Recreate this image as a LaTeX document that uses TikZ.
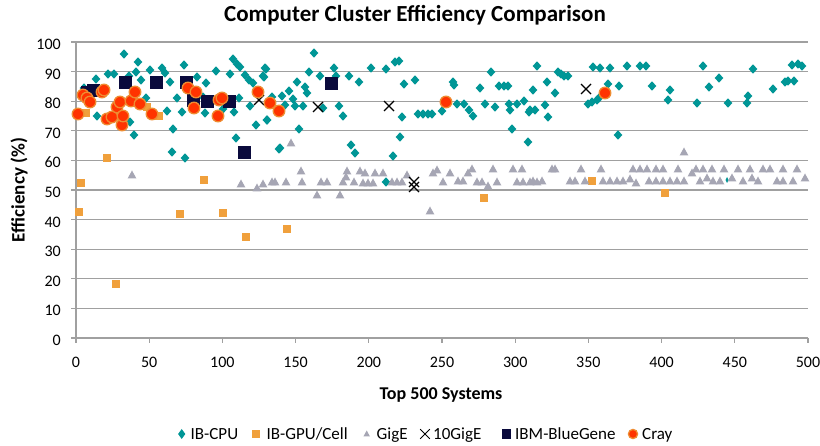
\documentclass[tikz,border=0pt]{standalone}
\usepackage{fontspec}
\setmainfont{Carlito}
\definecolor{cpuc}{RGB}{0,150,150}
\definecolor{gpuc}{RGB}{240,160,60}
\definecolor{gigc}{RGB}{166,166,180}
\definecolor{bgc}{RGB}{10,10,60}
\definecolor{crayf}{RGB}{255,51,0}
\definecolor{crayb}{RGB}{238,140,50}
\definecolor{gridc}{RGB}{160,160,160}
\tikzset{
  gridline/.style={draw=gridc,line width=1.2pt},
  ticklab/.style={font=\fontsize{16}{18}\selectfont,inner sep=0pt},
  cpu/.style={fill=cpuc},
  gpu/.style={fill=gpuc},
  gig/.style={fill=gigc},
  xge/.style={draw=black,line width=1.3pt},
  bgm/.style={fill=bgc},
  cray/.style={fill=crayf,draw=crayb,line width=1.3pt},
}
\begin{document}
\begin{tikzpicture}[x=1pt,y=-1pt]
\useasboundingbox (0,0) rectangle (820,446);
\fill[white] (0,0) rectangle (820,446);
% title
\node[font=\fontsize{23}{26}\selectfont\bfseries,inner sep=0pt,anchor=base] (title) at (415,22) {Computer Cluster Efficiency Comparison};
% grid
\foreach \v in {10,20,...,100}
  \draw[gridline] (76,{338-2.96*\v}) -- (808,{338-2.96*\v});
\draw[gridline] (76,42.4) -- (76,338) -- (808,338);
\foreach \v in {0,10,...,100}{
  \draw[gridline] (71,{338-2.96*\v}) -- (76,{338-2.96*\v});
  \node[ticklab,anchor=base east] (yl\v) at (61,{345.5-2.96*\v}) {\v};
}
\foreach \v in {0,50,...,500}{
  \draw[gridline] ({76+1.464*\v},338) -- ({76+1.464*\v},343);
  \node[ticklab,anchor=base] (xl\v) at ({76+1.464*\v},368) {\v};
}
\node[font=\fontsize{18}{20}\selectfont\bfseries,inner sep=0pt,anchor=base] (xlab) at (441,400) {Top 500 Systems};
\node[font=\fontsize{19}{21}\selectfont\bfseries,inner sep=0pt,rotate=90] (ylab) at (19,190) {Efficiency (\%)};
% IB-CPU
\foreach \x/\y in {124/54,138/62,129/76,136/72,141/80,150/70,146/98,96/79,108/74,114/74,97/116,134/135,130/122,184/65,197/77,206/83,216/71,162/68,165/73,170/82,173/129,172/152,185/158,167/111,182/112,177/98,205/113,203/97,233/59,237/64,240/67,230/74,245/75,249/80,253/83,239/98,250/106,236/138,256/125,266/69,264/77,272/97,267/120,279/110,279/149,223/109,234/112,84/88,
314/53,265/68,263/76,309/72,320/76,297/82,305/87,307/93,289/91,282/96,293/99,285/105,295/106,303/106,323/108,339/106,343/116,267/120,299/129,280/148,351/145,355/153,334/68,336/76,349/76,359/82,371/68,386/69,395/62,399/61,404/84,415/80,402/117,400/137,393/156,386/182,418/114,423/114,428/114,432/114,442/111,453/82,454/85,457/104,464/104,469/110,473/116,480/88,485/104,491/72,495/107,499/86,504/86,508/86,509/104,510/110,512/129,517/104,524/101,528/142,529/112,533/90,535/110,537/66,
530/110,545/105,548/117,547/82,555/93,558/72,561/74,564/76,568/76,593/67,600/68,610/68,608/84,619/86,588/104,592/102,597/100,599/98,618/135,627/66,640/66,646/66,652/86,670/90,668/100,697/103,703/66,709/87,719/78,728/103,747/103,748/96,753/69,773/89,785/82,788/81,794/81,792/65,798/64,802/66}
  \fill[cpu] (\x,\y) +(0,-4.6) -- +(4.4,0) -- +(0,4.6) -- +(-4.4,0) -- cycle;
\fill[cpu] (727,180) +(0,-3) -- +(1.5,0) -- +(0,3) -- +(-1.5,0) -- cycle;
% IB-GPU/Cell
\foreach \x/\y in {86/113,147/107,159/116,107/158,81/183,79/212,180/214,204/180,223/213,246/237,116/284,287/229,484/198,592/181,665/193}
  \fill[gpu] (\x,\y) +(-4.2,-4.2) rectangle +(4.2,4.2);
% GigE
\foreach \x/\y in {132/175,241/184,257/188,272/182,275/182,291/143,
263/184,286/182,301/171,302/182,317/195,321/182,327/182,340/195,343/182,347/171,346/177,354/182,360/171,363/183,368/183,373/183,365/173,375/173,383/173,392/182,397/182,402/182,407/175,430/211,433/173,437/170,443/182,450/173,458/181,463/181,468/173,472/169,477/182,482/182,488/186,493/169,497/182,513/169,522/169,517/182,523/182,530/182,537/182,
684/152,552/169,555/169,581/169,601/169,633/169,640/169,647/169,656/169,663/169,678/169,696/169,703/169,712/169,724/169,738/169,750/169,763/169,770/169,783/169,797/169,
533/181,542/181,570/181,575/181,585/181,603/181,610/181,617/181,623/181,630/179,636/183,649/181,656/181,663/181,670/181,677/181,684/181,692/173,700/181,707/178,713/181,720/181,732/178,743/181,752/178,758/181,777/181,783/181,793/181,805/178}
  \fill[gig] (\x,\y) +(0,-4.5) -- +(4.3,3.3) -- +(-4.3,3.3) -- cycle;
% 10GigE
\foreach \x/\y in {259/100,318/107,389/106,414/182,414/187,586/89}
  \draw[xge] (\x,\y) +(-5,-5) -- +(5,5) +(-5,5) -- +(5,-5);
% IBM-BlueGene
\foreach \x/\y in {87/93,93/91,125/83,156/83,186/83,193/101,207/102,229/102,244/153,331/84}
  \fill[bgm] (\x,\y) +(-6.5,-6.5) rectangle +(6.5,6.5);
% Cray
\foreach \x/\y in {78/114,83/95,87/98,90/102,102/92,104/90,107/119,112/117,117/107,120/102,122/125,123/116,131/101,135/92,140/104,152/114,188/88,196/92,194/108,218/116,219/100,222/98,258/92,270/103,279/111,446/102,605/93}
  \filldraw[cray] (\x,\y) circle (5.8);
% legend
\tikzset{legt/.style={font=\fontsize{17}{19}\selectfont,inner sep=0pt,anchor=base west}}
\fill[cpu] (181.7,434) +(0,-5) -- +(3.6,0) -- +(0,5) -- +(-3.6,0) -- cycle;
\node[legt] (l1) at (190.5,440) {IB-CPU};
\fill[gpu] (256,434) +(-4.2,-4.2) rectangle +(4.2,4.2);
\node[legt] (l2) at (266.5,440) {IB-GPU/Cell};
\fill[gig] (366.7,434) +(0,-3.5) -- +(3.3,2.5) -- +(-3.3,2.5) -- cycle;
\node[legt] (l3) at (376.5,440) {GigE};
\draw[black,line width=1pt] (425,434) +(-4.8,-4.8) -- +(4.8,4.8) +(-4.8,4.8) -- +(4.8,-4.8);
\node[legt] (l4) at (433,440) {10GigE};
\fill[bgm] (506.5,434) +(-4.6,-4.6) rectangle +(4.6,4.6);
\node[legt] (l5) at (515,440) {IBM-BlueGene};
\filldraw[cray] (633,434) circle (4.6);
\node[legt] (l6) at (642,440) {Cray};
\end{tikzpicture}
\end{document}
